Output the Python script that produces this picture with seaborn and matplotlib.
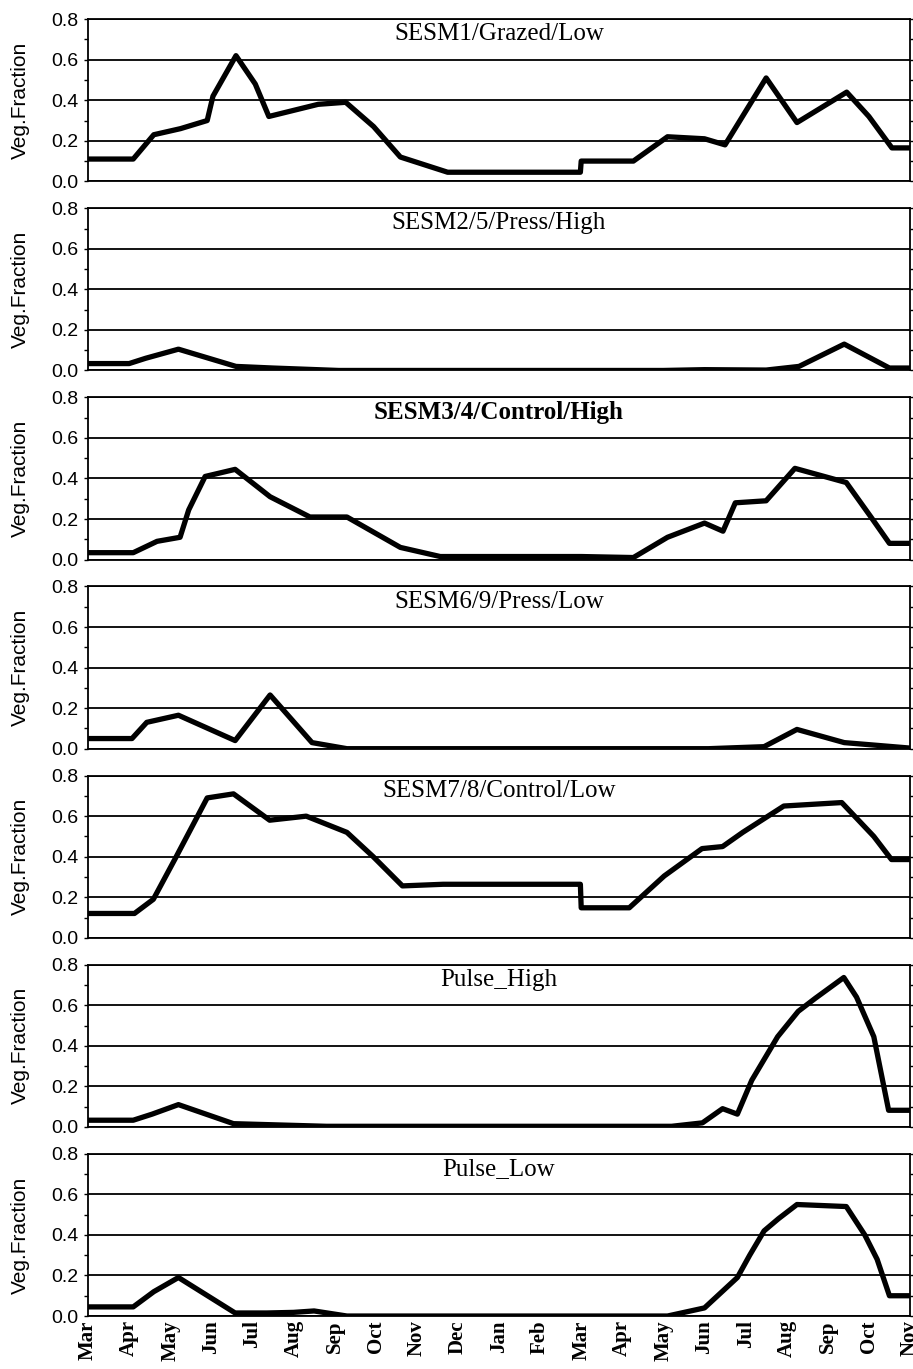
import matplotlib
matplotlib.use("Agg")
import matplotlib.pyplot as plt
import numpy as np
import pandas as pd
import seaborn as sns
from matplotlib.ticker import MultipleLocator

# month axis: 0 = Mar (year 1) ... 20 = Nov (year 2)
months = ['Mar', 'Apr', 'May', 'Jun', 'Jul', 'Aug', 'Sep', 'Oct', 'Nov', 'Dec', 'Jan',
          'Feb', 'Mar', 'Apr', 'May', 'Jun', 'Jul', 'Aug', 'Sep', 'Oct', 'Nov']

titles = ['SESM1/Grazed/Low', 'SESM2/5/Press/High', 'SESM3/4/Control/High',
          'SESM6/9/Press/Low', 'SESM7/8/Control/Low', 'Pulse_High', 'Pulse_Low']

sesm1_x = [0, 1.1, 1.6, 2.25, 2.9, 3.04, 3.6, 4.07, 4.4, 5.6, 6.27, 6.95, 7.6, 8.75,
           11.98, 12.0, 13.27, 14.1, 15.0, 15.5, 16.5, 17.25, 18.46, 19.0, 19.56, 20]
sesm1_y = [0.11, 0.11, 0.23, 0.26, 0.30, 0.42, 0.62, 0.48, 0.32, 0.38, 0.39, 0.27, 0.12, 0.045,
           0.045, 0.10, 0.10, 0.22, 0.21, 0.18, 0.51, 0.29, 0.44, 0.32, 0.165, 0.165]

sesm2_x = [0, 1.0, 1.4, 2.2, 3.6, 4.5, 6.1, 14.0, 15.0, 16.5, 17.3, 18.4, 19.5, 20]
sesm2_y = [0.034, 0.034, 0.06, 0.105, 0.02, 0.012, 0.0, 0.0, 0.004, 0.002, 0.02, 0.13, 0.012, 0.012]

sesm3_x = [0, 1.1, 1.68, 2.24, 2.45, 2.85, 3.58, 4.43, 5.4, 6.3, 7.6, 8.57,
           12.0, 13.27, 14.1, 15.0, 15.45, 15.75, 16.5, 17.2, 18.45, 19.05, 19.5, 20]
sesm3_y = [0.034, 0.034, 0.09, 0.11, 0.245, 0.41, 0.445, 0.31, 0.21, 0.21, 0.06, 0.015,
           0.015, 0.01, 0.11, 0.18, 0.14, 0.28, 0.29, 0.45, 0.38, 0.21, 0.08, 0.08]

sesm6_x = [0, 1.07, 1.43, 2.2, 3.58, 4.43, 5.45, 6.3, 15.1, 16.45, 17.25, 18.4, 20]
sesm6_y = [0.05, 0.05, 0.13, 0.165, 0.04, 0.265, 0.03, 0.0, 0.0, 0.01, 0.095, 0.03, 0.003]

sesm7_x = [0, 1.13, 1.59, 2.12, 2.9, 3.54, 4.42, 5.31, 6.3, 6.94, 7.65, 8.64,
           11.98, 12.0, 13.17, 14.02, 14.94, 15.44, 15.93, 16.93, 18.34, 19.12, 19.55, 20]
sesm7_y = [0.12, 0.12, 0.19, 0.39, 0.69, 0.71, 0.58, 0.60, 0.52, 0.40, 0.256, 0.264,
           0.264, 0.148, 0.148, 0.305, 0.44, 0.45, 0.52, 0.65, 0.667, 0.50, 0.386, 0.386]

pulse_high_x = [0, 1.1, 1.56, 2.2, 3.54, 5.8, 14.2, 14.95, 15.44, 15.8, 16.15, 16.78,
                17.28, 17.7, 18.39, 18.7, 19.12, 19.48, 20]
pulse_high_y = [0.033, 0.033, 0.063, 0.11, 0.016, 0.003, 0.003, 0.02, 0.09, 0.063, 0.23, 0.445,
                0.57, 0.635, 0.737, 0.64, 0.445, 0.082, 0.082]

pulse_low_x = [0, 1.1, 1.6, 2.2, 3.58, 4.35, 5.0, 5.5, 6.3, 14.1, 15.0, 15.8, 16.1,
               16.45, 16.8, 17.25, 18.45, 18.9, 19.2, 19.5, 20]
pulse_low_y = [0.045, 0.045, 0.12, 0.19, 0.015, 0.015, 0.018, 0.025, 0.0, 0.0, 0.04, 0.19, 0.30,
               0.42, 0.48, 0.55, 0.54, 0.40, 0.28, 0.10, 0.10]

series = [(sesm1_x, sesm1_y), (sesm2_x, sesm2_y), (sesm3_x, sesm3_y), (sesm6_x, sesm6_y),
          (sesm7_x, sesm7_y), (pulse_high_x, pulse_high_y), (pulse_low_x, pulse_low_y)]

sns.set_style("white")
plt.rcParams['font.family'] = ['Liberation Sans', 'DejaVu Sans']
plt.rcParams['text.color'] = 'black'
plt.rcParams['axes.labelcolor'] = 'black'
plt.rcParams['xtick.color'] = 'black'
plt.rcParams['ytick.color'] = 'black'

fig, axes = plt.subplots(7, 1, figsize=(9.13, 13.69), dpi=100, sharex=True)
fig.subplots_adjust(left=0.0964, right=0.9967, top=0.986, bottom=0.0387, hspace=0.166)

for i, (ax, title, (xs, ys)) in enumerate(zip(axes, titles, series)):
    df = pd.DataFrame({'month': xs, 'frac': ys})
    sns.lineplot(data=df, x='month', y='frac', ax=ax, color='black', linewidth=3.8,
                 estimator=None, sort=False)
    ax.set_xlim(0, 20)
    ax.set_ylim(0, 0.8)
    ax.set_yticks([0.0, 0.2, 0.4, 0.6, 0.8])
    ax.yaxis.set_minor_locator(MultipleLocator(0.1))
    ax.set_yticklabels([f'{v:.1f}' for v in [0.0, 0.2, 0.4, 0.6, 0.8]], fontsize=14)
    ax.grid(axis='y', color='black', linewidth=1.3)
    ax.set_axisbelow(True)
    for s in ax.spines.values():
        s.set_color('black')
        s.set_linewidth(1.3)
    ax.tick_params(axis='y', which='both', direction='out', left=True, right=True,
                   labelright=False, color='black', width=1)
    ax.tick_params(axis='y', which='major', length=3, pad=4)
    ax.tick_params(axis='y', which='minor', length=3)
    ax.set_ylabel('Veg.Fraction', fontsize=15)
    ax.yaxis.set_label_coords(-0.071, 0.5)
    ax.set_xlabel('')
    ax.text(0.5, 0.975, title, transform=ax.transAxes, ha='center', va='top',
            fontsize=18, family='Liberation Serif', color='black',
            fontweight='bold' if i == 2 else 'normal')

bottom = axes[-1]
bottom.set_xticks(range(len(months)))
bottom.set_xticklabels(months, rotation=90, family='Liberation Serif',
                       fontweight='bold', fontsize=15)
bottom.tick_params(axis='x', length=0, pad=3)

fig.savefig('out.png', dpi=100)
